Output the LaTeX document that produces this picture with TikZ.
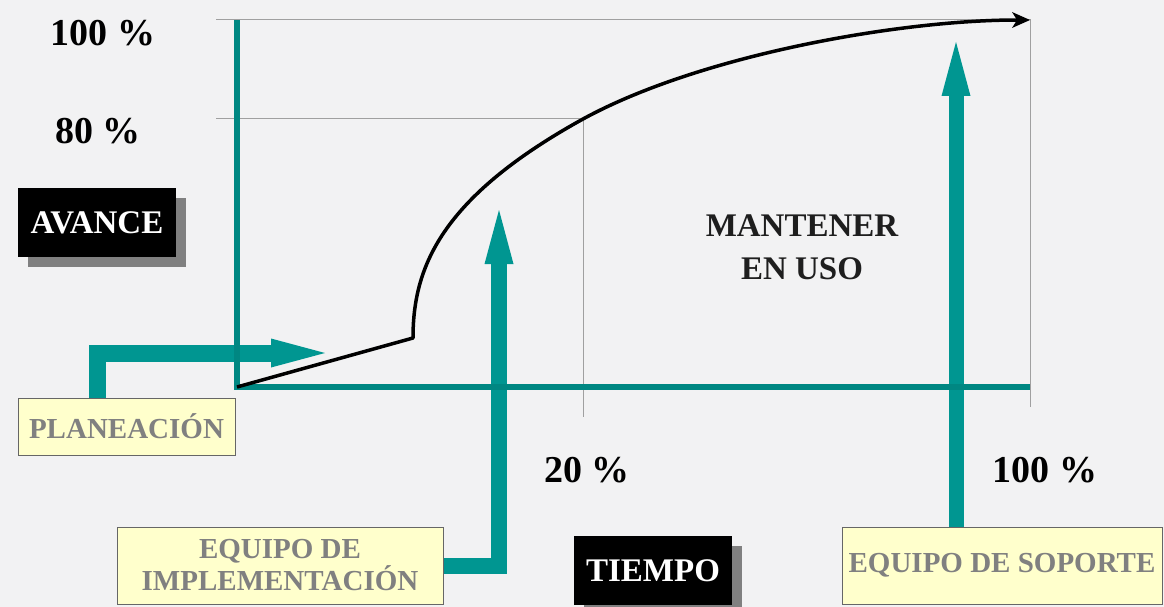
\documentclass[tikz,border=0pt]{standalone}
\usepackage{fontspec}
\setmainfont{Liberation Serif}
\usetikzlibrary{arrows.meta,shadows}
\pgfdeclarelayer{bglayer}
\pgfdeclarelayer{arrowlayer}
\pgfsetlayers{bglayer,arrowlayer,main}
\definecolor{tealarrow}{RGB}{0,150,145}
\definecolor{tealaxis}{RGB}{0,135,130}
\definecolor{bgcol}{RGB}{242,242,243}
\definecolor{boxfill}{RGB}{255,255,204}
\definecolor{boxtext}{RGB}{128,128,128}
\definecolor{gridcol}{RGB}{160,160,160}
\definecolor{darktext}{RGB}{30,30,30}
\begin{document}
\begin{tikzpicture}[x=1pt,y=-1pt,
  ybox/.style={draw=gray!80!black, line width=1pt, fill=boxfill, text=boxtext,
    font=\bfseries\fontsize{29}{32}\selectfont, inner sep=0pt, align=center},
  bbox/.style={fill=black, text=white, font=\bfseries\fontsize{33}{36}\selectfont,
    minimum width=158pt, minimum height=69pt, inner sep=0pt,
    drop shadow={shadow xshift=10pt, shadow yshift=-10pt, fill=gray, opacity=1}},
  numlabel/.style={font=\bfseries\fontsize{38}{40}\selectfont, inner sep=0pt},
  gridline/.style={draw=gridcol, line width=1pt},
  axisline/.style={draw=tealaxis, line width=6pt},
  tarrow/.style={draw=tealarrow, line join=miter,
    -{Triangle[length=54pt,width=29pt,line width=0pt]}},
  curveline/.style={draw=black, line width=3.5pt, line join=round,
    -{Stealth[length=18pt,width=16pt,inset=5pt,line width=0pt]}}
]
\useasboundingbox (0,0) rectangle (1164,607);
\begin{pgfonlayer}{bglayer}
\fill[bgcol] (0,0) rectangle (1164,607);
\end{pgfonlayer}

% coordinates
\coordinate (O) at (237,387);
\coordinate (ytop) at (237,20);
\coordinate (xend) at (1030,387);
\coordinate (K) at (413,338);
\coordinate (P80) at (583,119);
\coordinate (E) at (1030,20);
\coordinate (g100a) at (216,20);
\coordinate (g80a) at (216,119);
\coordinate (t20) at (583,417);
\coordinate (t100) at (1030,407);
\coordinate (planTip) at (325,353);
\coordinate (implTip) at (499,210);
\coordinate (sopTip) at (956,42);

% boxes
\node[ybox, minimum width=217pt, minimum height=57pt] (plan) at (126.5,426.5) {PLANEACIÓN};
\node[ybox, minimum width=326pt, minimum height=77pt] (impl) at (280,565.5) {EQUIPO DE\\IMPLEMENTACIÓN};
\node[ybox, minimum width=320pt, minimum height=77pt] (sop) at (1002,565.5) {EQUIPO DE SOPORTE};

% grid lines
\begin{pgfonlayer}{bglayer}
\draw[gridline] (g100a) -- (E) -- (t100);
\draw[gridline] (g80a) -- (P80) -- (t20);
\end{pgfonlayer}

% teal arrows
\begin{pgfonlayer}{arrowlayer}
\draw[tarrow, line width=17pt] ([xshift=-29.5pt]plan.north) |- (planTip);
\draw[tarrow, line width=16pt] (impl.east) -| (implTip);
\draw[tarrow, line width=15pt] ([xshift=-46pt]sop.north) -- (sopTip);
\end{pgfonlayer}

% axes
\draw[axisline] (ytop) -- (O) -- (xend);

% curve
\draw[curveline] (O) -- (K) .. controls (413,268) and (440,198) .. (P80)
  .. controls (700,55) and (900,20) .. (E);

% black label boxes
\node[bbox] (avance) at (97,222.5) {AVANCE};
\node[bbox] (tiempo) at (653,570.5) {TIEMPO};

% number labels
\node[numlabel] (l100y) at (103,33) {100 \%};
\node[numlabel] (l80y) at (98,131) {80 \%};
\node[numlabel] (l20x) at (587,470) {20 \%};
\node[numlabel] (l100x) at (1045,470) {100 \%};

% area label
\node[font=\bfseries\fontsize{33}{43}\selectfont, text=darktext, align=center, inner sep=0pt]
  (mant) at (802,247) {MANTENER\\EN USO};
\end{tikzpicture}
\end{document}
